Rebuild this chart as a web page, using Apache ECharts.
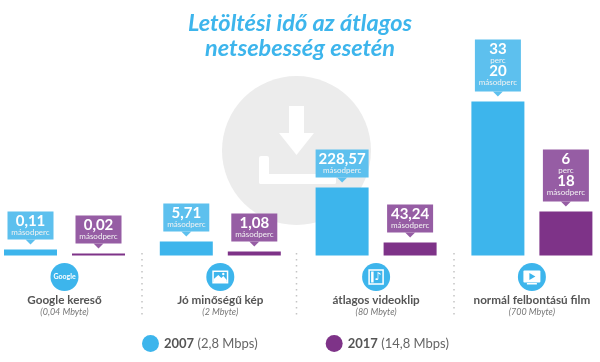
<!DOCTYPE html>
<html><head><meta charset="utf-8">
<style>html,body{margin:0;padding:0;background:#fff}#c{width:600px;height:362px}</style>
<script src="https://cdn.jsdelivr.net/npm/echarts@6/dist/echarts.min.js"></script>
</head><body><div id="c"></div>
<script>
const titleLines = ['Letöltési idő az átlagos', 'netsebesség esetén'];
const categories = ['Google kereső', 'Jó minőségű kép', 'átlagos videoklip', 'normál felbontású film'];
const sizes = ['(0,04 Mbyte)', '(2 Mbyte)', '(80 Mbyte)', '(700 Mbyte)'];
// bar heights as drawn in the picture (the picture's scale is not proportional to the labels)
const heights2007 = [6, 14, 68, 154];
const heights2017 = [2, 4, 13, 44];
const labels2007 = [[['0,11', 'másodperc']], [['5,71', 'másodperc']], [['228,57', 'másodperc']], [['33', 'perc'], ['20', 'másodperc']]];
const labels2017 = [[['0,02', 'másodperc']], [['1,08', 'másodperc']], [['43,24', 'másodperc']], [['6', 'perc'], ['18', 'másodperc']]];
const seriesNames = ['2007', '2017'];
const speeds = ['(2,8 Mbps)', '(14,8 Mbps)'];

const BLUE = '#3db5ec', PURPLE = '#7e3388', BLUE_L = '#5dc0ee', PURPLE_L = '#965da4';
const FONT = 'Lato, "Open Sans", sans-serif';
const BAR_W = 53, BAR_GAP = 15;

function callout(name, values, labels, dir, fill) {
  return {
    type: 'custom', name: 'c' + name, silent: true, clip: false, z: 5,
    data: values.map((v, i) => [i, v]),
    encode: { x: 0, y: 1 },
    renderItem(params, api) {
      const i = api.value(0);
      const p = api.coord([i, api.value(1)]);
      const cx = p[0] + dir * (BAR_W + BAR_GAP) / 2;
      const tiers = labels[i];
      const txt = tiers[0][0];
      const w = txt.length > 5 ? 53 : 46;
      const h = tiers.length * 26 - (tiers.length > 1 ? 0 : -2);
      const bottom = p[1] - 10, top = bottom - h;
      const kids = [
        { type: 'rect', shape: { x: cx - w / 2, y: top, width: w, height: h }, style: { fill } },
        { type: 'polygon', shape: { points: [[cx - 5, bottom], [cx + 5, bottom], [cx, bottom + 5]] }, style: { fill } }
      ];
      tiers.forEach((t, k) => {
        const y0 = top + k * 22;
        kids.push({ type: 'text', style: { x: cx, y: y0 + 10, text: t[0], fill: '#fff', align: 'center', verticalAlign: 'middle', font: 'bold 15px ' + FONT } });
        kids.push({ type: 'text', style: { x: cx, y: y0 + 20.5, text: t[1], fill: '#f2f2f2', align: 'center', verticalAlign: 'middle', font: '8px ' + FONT } });
      });
      return { type: 'group', children: kids };
    }
  };
}

function iconShapes(i, x, y) {
  const W = '#fff', B = BLUE;
  if (i === 0) return [{ type: 'text', style: { x, y, text: 'Google', fill: W, align: 'center', verticalAlign: 'middle', font: 'bold 7px ' + FONT } }];
  if (i === 1) return [
    { type: 'rect', shape: { x: x - 8, y: y - 6.5, width: 16, height: 13 }, style: { fill: W } },
    { type: 'rect', shape: { x: x - 6.5, y: y - 5, width: 13, height: 10 }, style: { fill: B } },
    { type: 'polygon', shape: { points: [[x - 6.5, y + 5], [x - 6.5, y + 2], [x - 2, y - 2], [x + 1, y + 1], [x + 3, y - 1], [x + 6.5, y + 3], [x + 6.5, y + 5]] }, style: { fill: W } },
    { type: 'circle', shape: { cx: x + 3, cy: y - 3, r: 1.2 }, style: { fill: W } }
  ];
  if (i === 2) return [
    { type: 'rect', shape: { x: x - 7, y: y - 7, width: 14, height: 14 }, style: { fill: 'none', stroke: W, lineWidth: 1.5 } },
    { type: 'rect', shape: { x: x - 5, y: y - 5.5, width: 2.5, height: 11 }, style: { fill: W } },
    { type: 'text', style: { x: x + 2, y, text: '♪', fill: W, align: 'center', verticalAlign: 'middle', font: 'bold 11px "DejaVu Sans"' } }
  ];
  return [
    { type: 'rect', shape: { x: x - 8.5, y: y - 6.5, width: 17, height: 12, r: 1 }, style: { fill: W } },
    { type: 'rect', shape: { x: x - 5, y: y + 6, width: 10, height: 1.5 }, style: { fill: W } },
    { type: 'polygon', shape: { points: [[x - 2.5, y - 4], [x - 2.5, y + 3], [x + 3.5, y - 0.5]] }, style: { fill: B } }
  ];
}

const iconSeries = {
  type: 'custom', name: 'icons', silent: true, clip: false, z: 5,
  data: categories.map((c, i) => [i, 0]),
  encode: { x: 0, y: 1 },
  renderItem(params, api) {
    const i = api.value(0);
    const p = api.coord([i, 0]);
    const x = p[0], y = p[1] + 21.5;
    return { type: 'group', children: [
      { type: 'circle', shape: { cx: x, cy: y, r: 14 }, style: { fill: BLUE } },
      ...iconShapes(i, x, y)
    ] };
  }
};

const dotted = x => ({ type: 'line', z: 0, shape: { x1: x, y1: 253, x2: x, y2: 319 }, style: { stroke: '#c4c4c4', lineWidth: 1.5, lineDash: [1.5, 4.5] } });
const titleText = (t, y) => ({ type: 'text', z: 1, style: { x: 300, y, text: t, fill: BLUE, align: 'center', verticalAlign: 'middle', font: 'italic bold 23.5px ' + FONT } });
const graphic = [
  { type: 'circle', z: -2, shape: { cx: 296.5, cy: 150.5, r: 74.5 }, style: { fill: '#ececec' } },
  { type: 'rect', z: -1, shape: { x: 289, y: 106, width: 15, height: 29 }, style: { fill: '#fff' } },
  { type: 'polygon', z: -1, shape: { points: [[279, 133], [314, 133], [296.5, 155]] }, style: { fill: '#fff' } },
  { type: 'rect', z: -1, shape: { x: 259, y: 156, width: 10, height: 28, r: 2 }, style: { fill: '#fff' } },
  { type: 'rect', z: -1, shape: { x: 259, y: 174, width: 77, height: 10, r: 2 }, style: { fill: '#fff' } },
  { type: 'rect', z: -1, shape: { x: 326, y: 156, width: 10, height: 28, r: 2 }, style: { fill: '#fff' } },
  dotted(142), dotted(296.5), dotted(454),
  titleText(titleLines[0], 23), titleText(titleLines[1], 48)
];

const chart = echarts.init(document.getElementById('c'), null, { renderer: 'canvas' });
chart.setOption({
  animation: false,
  backgroundColor: '#fff',
  graphic,
  grid: { left: -13.4, width: 623.2, top: 55.5, height: 200, outerBoundsMode: 'none' },
  legend: {
    left: 137, top: 330, itemWidth: 17, itemHeight: 17, itemGap: 68, icon: 'circle',
    selectedMode: false, data: seriesNames,
    formatter: n => `{a|${n}} {b|${speeds[seriesNames.indexOf(n)]}}`,
    textStyle: { rich: {
      a: { fontFamily: FONT, fontWeight: 'bold', fontSize: 13, color: '#555' },
      b: { fontFamily: FONT, fontSize: 13, color: '#666' }
    } }
  },
  xAxis: {
    type: 'category', data: categories,
    axisLine: { show: false }, axisTick: { show: false },
    axisLabel: {
      margin: 39, interval: 0, lineHeight: 11,
      formatter: (v, i) => `{n|${v}}\n{s|${sizes[i]}}`,
      rich: {
        n: { fontFamily: FONT, fontWeight: 'bold', fontSize: 11.7, color: '#555', lineHeight: 12 },
        s: { fontFamily: FONT, fontStyle: 'italic', fontSize: 9, color: '#777', lineHeight: 11 }
      }
    }
  },
  yAxis: { type: 'value', min: 0, max: 200, show: false },
  series: [
    { type: 'bar', name: seriesNames[0], data: heights2007, barWidth: BAR_W, barGap: (BAR_GAP / BAR_W * 100) + '%', itemStyle: { color: BLUE }, z: 3 },
    { type: 'bar', name: seriesNames[1], data: heights2017, barWidth: BAR_W, itemStyle: { color: PURPLE }, z: 3 },
    callout('2007', heights2007, labels2007, -1, BLUE_L),
    callout('2017', heights2017, labels2017, 1, PURPLE_L),
    iconSeries
  ]
});
</script></body></html>
